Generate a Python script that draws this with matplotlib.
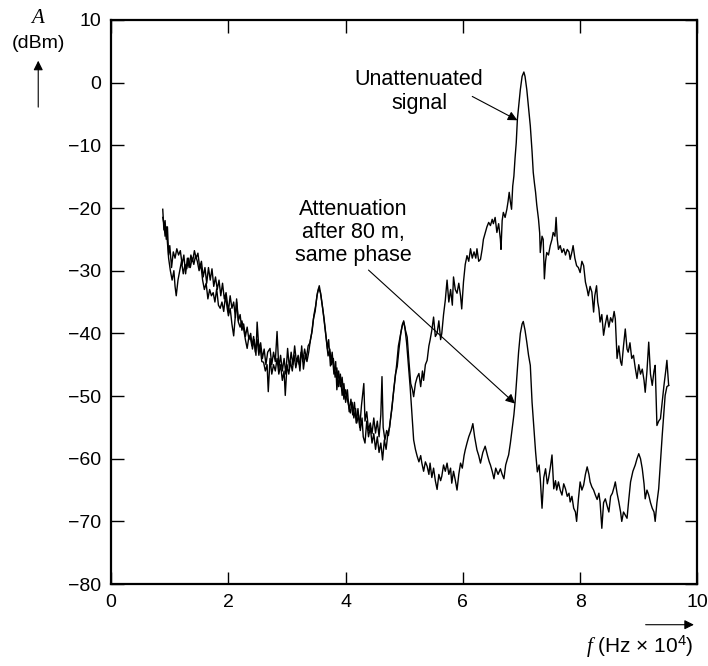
import numpy as np
import matplotlib.pyplot as plt

plt.rcParams['font.family'] = ['Liberation Sans', 'DejaVu Sans']
plt.rcParams['mathtext.fontset'] = 'custom'
plt.rcParams['mathtext.it'] = 'Liberation Serif:italic'
plt.rcParams['mathtext.rm'] = 'Liberation Sans'

# unattenuated signal, f in Hz x 10^4, A in dBm
ua_f = [0.88, 0.90, 0.92, 0.94, 0.96, 0.98, 1.00, 1.03, 1.06, 1.09, 1.12, 1.15, 1.18, 1.21, 1.24, 1.27, 1.30,
        1.33, 1.36, 1.39, 1.42, 1.45, 1.48, 1.51, 1.54, 1.57, 1.60, 1.63, 1.66, 1.69, 1.72, 1.75, 1.78, 1.81,
        1.84, 1.87, 1.90, 1.93, 1.96, 2.00, 2.03, 2.06, 2.09, 2.12, 2.14, 2.17, 2.20, 2.23, 2.26, 2.29, 2.32,
        2.35, 2.38, 2.41, 2.44, 2.47, 2.49, 2.52, 2.55, 2.58, 2.61, 2.64, 2.67, 2.71, 2.74, 2.77, 2.80, 2.83,
        2.86, 2.89, 2.92, 2.95, 2.98, 3.01, 3.04, 3.07, 3.10, 3.13, 3.16, 3.19, 3.22, 3.25, 3.28, 3.31, 3.34,
        3.37, 3.40, 3.43, 3.46, 3.49, 3.52, 3.55, 3.58, 3.61, 3.64, 3.67, 3.70, 3.73, 3.76, 3.79, 3.82, 3.85,
        3.88, 3.91, 3.94, 3.97, 4.00, 4.03, 4.06, 4.09, 4.12, 4.15, 4.18, 4.21, 4.24, 4.27, 4.31, 4.33, 4.36,
        4.39, 4.42, 4.45, 4.48, 4.51, 4.54, 4.57, 4.60, 4.62, 4.64, 4.67, 4.70, 4.73, 4.76, 4.79, 4.82, 4.85,
        4.88, 4.91, 4.94, 4.97, 4.99, 5.02, 5.05, 5.08, 5.11, 5.14, 5.16, 5.19, 5.22, 5.25, 5.28, 5.31, 5.33,
        5.36, 5.39, 5.42, 5.44, 5.47, 5.50, 5.53, 5.56, 5.59, 5.62, 5.64, 5.67, 5.70, 5.73, 5.76, 5.79, 5.82,
        5.84, 5.87, 5.90, 5.93, 5.96, 5.98, 6.01, 6.04, 6.07, 6.10, 6.13, 6.16, 6.19, 6.22, 6.24, 6.27, 6.30,
        6.33, 6.35, 6.38, 6.41, 6.44, 6.47, 6.50, 6.52, 6.55, 6.58, 6.61, 6.64, 6.65, 6.67, 6.69, 6.72, 6.75,
        6.77, 6.79, 6.81, 6.83, 6.85, 6.87, 6.89, 6.91, 6.93, 6.96, 6.98, 7.01, 7.04, 7.06, 7.09, 7.12, 7.15,
        7.18, 7.20, 7.22, 7.24, 7.26, 7.29, 7.31, 7.32, 7.35, 7.37, 7.39, 7.41, 7.43, 7.46, 7.49, 7.52, 7.54,
        7.57, 7.59, 7.61, 7.63, 7.66, 7.69, 7.72, 7.75, 7.78, 7.81, 7.83, 7.86, 7.88, 7.91, 7.94, 7.97, 8.00,
        8.03, 8.06, 8.09, 8.12, 8.14, 8.17, 8.20, 8.23, 8.25, 8.28, 8.30, 8.32, 8.34, 8.37, 8.40, 8.43, 8.46,
        8.49, 8.52, 8.55, 8.58, 8.60, 8.63, 8.66, 8.69, 8.71, 8.74, 8.77, 8.80, 8.82, 8.85, 8.88, 8.91, 8.94,
        8.97, 9.00, 9.03, 9.06, 9.09, 9.11, 9.14, 9.17, 9.20, 9.23, 9.26, 9.28, 9.31, 9.34, 9.37, 9.40, 9.43,
        9.46, 9.48, 9.51]
ua_a = [-20.2, -23.5, -22.0, -25.0, -23.0, -27.5, -26.0, -29.5, -27.0, -28.0, -26.5, -27.5, -26.8, -29.0,
        -27.5, -30.5, -28.0, -29.5, -27.5, -28.5, -26.8, -28.0, -27.2, -29.5, -28.5, -31.0, -29.5, -32.0,
        -29.5, -31.5, -29.7, -32.5, -31.0, -33.0, -31.5, -34.0, -32.0, -34.5, -33.5, -36.5, -34.0, -36.0,
        -35.0, -37.5, -34.5, -38.0, -37.0, -39.5, -38.5, -40.5, -39.0, -41.0, -40.0, -42.5, -41.0, -43.5,
        -38.2, -42.5, -41.5, -44.0, -42.5, -45.0, -43.0, -42.4, -45.0, -43.0, -44.5, -39.7, -45.6, -43.5,
        -46.0, -44.0, -46.5, -42.4, -45.5, -43.0, -45.0, -42.0, -44.6, -43.5, -46.0, -42.0, -45.7, -43.5,
        -44.5, -43.0, -41.0, -39.5, -37.0, -35.5, -33.5, -32.4, -34.0, -36.1, -38.5, -41.0, -43.6, -42.5,
        -45.0, -44.0, -47.0, -45.5, -48.5, -46.5, -49.9, -48.0, -51.0, -49.0, -52.5, -50.5, -53.0, -51.0,
        -54.3, -52.0, -55.0, -51.5, -48.0, -54.0, -52.5, -55.5, -54.3, -56.0, -53.5, -55.9, -54.0, -56.5,
        -53.0, -46.9, -55.0, -57.0, -55.5, -56.3, -54.0, -52.0, -49.0, -46.5, -45.3, -42.5, -40.0, -38.5,
        -38.2, -39.5, -40.6, -44.5, -48.0, -49.0, -50.1, -48.0, -47.0, -46.4, -48.5, -46.0, -47.5, -45.0,
        -44.3, -42.0, -41.1, -39.5, -37.4, -40.5, -40.0, -38.0, -41.0, -40.0, -37.0, -34.7, -31.5, -35.0,
        -33.0, -35.5, -31.0, -33.0, -33.6, -32.0, -34.0, -36.1, -31.8, -29.0, -27.6, -28.5, -26.5, -28.0,
        -27.0, -28.0, -26.5, -28.5, -28.2, -26.5, -25.0, -24.0, -23.0, -22.3, -22.8, -21.8, -22.5, -21.5,
        -23.9, -22.5, -25.0, -26.6, -22.0, -20.7, -21.5, -20.2, -19.0, -17.5, -19.0, -20.2, -16.5, -14.9,
        -12.0, -9.6, -5.8, -3.0, -1.1, 1.0, 1.7, 1.0, -1.1, -4.0, -6.9, -11.0, -14.3, -16.0, -17.5, -19.5,
        -21.8, -24.0, -27.1, -24.5, -25.0, -31.3, -28.5, -27.1, -27.5, -26.0, -25.0, -23.9, -24.5, -21.5,
        -25.0, -26.6, -26.0, -27.1, -26.5, -27.5, -26.6, -27.0, -28.2, -27.0, -26.0, -28.0, -29.2, -29.5,
        -30.3, -28.5, -29.2, -31.8, -33.0, -34.0, -32.5, -33.4, -36.6, -34.0, -32.4, -35.0, -36.1, -38.2,
        -37.0, -40.3, -38.5, -37.1, -39.0, -37.5, -38.2, -36.5, -37.7, -44.0, -42.0, -44.5, -45.1, -42.0,
        -39.3, -42.5, -43.0, -41.5, -44.0, -43.5, -45.5, -47.2, -45.0, -46.5, -45.7, -47.5, -49.4, -46.0,
        -41.4, -46.5, -48.3, -46.0, -45.1, -54.7, -54.0, -53.6, -51.0, -48.3, -46.0, -44.3, -48.3]

# attenuation after 80 m, same phase
at_f = [0.88, 0.90, 0.92, 0.94, 0.96, 0.98, 1.01, 1.04, 1.07, 1.09, 1.11, 1.14, 1.17, 1.20, 1.23, 1.26, 1.29,
        1.32, 1.35, 1.38, 1.41, 1.44, 1.47, 1.50, 1.53, 1.56, 1.59, 1.62, 1.65, 1.68, 1.71, 1.74, 1.77, 1.80,
        1.83, 1.86, 1.89, 1.92, 1.95, 1.98, 2.00, 2.03, 2.06, 2.09, 2.12, 2.14, 2.17, 2.20, 2.23, 2.26, 2.29,
        2.32, 2.35, 2.37, 2.40, 2.43, 2.46, 2.49, 2.52, 2.54, 2.57, 2.60, 2.63, 2.66, 2.68, 2.71, 2.74, 2.77,
        2.80, 2.83, 2.86, 2.89, 2.92, 2.95, 2.97, 3.00, 3.03, 3.06, 3.09, 3.12, 3.15, 3.18, 3.21, 3.24, 3.27,
        3.30, 3.33, 3.36, 3.39, 3.42, 3.45, 3.48, 3.51, 3.54, 3.57, 3.60, 3.63, 3.66, 3.69, 3.71, 3.74, 3.77,
        3.80, 3.83, 3.85, 3.88, 3.91, 3.94, 3.97, 4.00, 4.02, 4.05, 4.08, 4.11, 4.14, 4.17, 4.19, 4.22, 4.25,
        4.28, 4.30, 4.33, 4.36, 4.39, 4.42, 4.45, 4.48, 4.51, 4.54, 4.57, 4.60, 4.63, 4.66, 4.69, 4.72, 4.75,
        4.78, 4.81, 4.84, 4.87, 4.90, 4.93, 4.96, 4.99, 5.01, 5.04, 5.07, 5.10, 5.13, 5.16, 5.19, 5.22, 5.25,
        5.28, 5.30, 5.33, 5.36, 5.39, 5.42, 5.44, 5.47, 5.50, 5.53, 5.56, 5.59, 5.62, 5.64, 5.67, 5.70, 5.73,
        5.76, 5.79, 5.81, 5.84, 5.87, 5.90, 5.93, 5.96, 5.99, 6.02, 6.04, 6.07, 6.10, 6.14, 6.17, 6.20, 6.24,
        6.27, 6.30, 6.34, 6.38, 6.42, 6.45, 6.47, 6.50, 6.53, 6.56, 6.60, 6.64, 6.67, 6.70, 6.73, 6.76, 6.78,
        6.81, 6.84, 6.87, 6.89, 6.92, 6.95, 6.98, 7.01, 7.03, 7.06, 7.09, 7.12, 7.15, 7.18, 7.21, 7.24, 7.27,
        7.30, 7.32, 7.35, 7.38, 7.41, 7.44, 7.46, 7.49, 7.52, 7.55, 7.58, 7.60, 7.63, 7.66, 7.69, 7.72, 7.75,
        7.78, 7.81, 7.83, 7.86, 7.89, 7.92, 7.94, 7.97, 8.00, 8.03, 8.06, 8.09, 8.12, 8.15, 8.17, 8.20, 8.23,
        8.26, 8.29, 8.32, 8.34, 8.37, 8.40, 8.43, 8.46, 8.49, 8.52, 8.55, 8.58, 8.60, 8.63, 8.66, 8.69, 8.71,
        8.74, 8.77, 8.80, 8.83, 8.86, 8.90, 8.94, 8.97, 9.00, 9.03, 9.06, 9.09, 9.11, 9.14, 9.17, 9.20, 9.23,
        9.26, 9.28, 9.31, 9.34, 9.37, 9.40, 9.43, 9.45, 9.48, 9.51]
at_a = [-21.5, -22.5, -24.5, -23.0, -25.5, -28.0, -30.0, -31.5, -30.0, -32.5, -34.0, -31.5, -30.0, -28.5,
        -30.5, -29.0, -29.7, -28.0, -29.5, -28.0, -29.0, -27.6, -28.5, -30.0, -29.0, -31.5, -33.0, -32.0,
        -34.5, -33.0, -34.0, -33.5, -35.0, -32.9, -35.5, -36.0, -35.0, -36.5, -34.0, -36.0, -37.2, -36.0,
        -38.5, -40.4, -37.0, -35.0, -38.2, -39.0, -38.0, -39.3, -41.0, -42.4, -40.5, -40.4, -42.0, -40.5,
        -43.0, -41.0, -43.5, -42.0, -44.5, -44.6, -46.0, -45.0, -49.3, -44.0, -46.5, -45.0, -46.0, -44.0,
        -46.5, -45.0, -47.5, -46.0, -49.9, -45.0, -46.5, -44.5, -46.0, -43.5, -45.5, -44.0, -45.0, -43.0,
        -44.5, -42.5, -44.0, -42.0, -41.5, -40.0, -37.7, -36.5, -34.0, -32.8, -33.5, -35.5, -37.5, -40.0,
        -42.5, -41.0, -45.2, -43.0, -46.5, -44.5, -49.0, -46.0, -48.5, -47.0, -50.5, -49.0, -50.1, -51.5,
        -52.7, -51.0, -53.5, -52.0, -54.3, -53.0, -55.5, -53.5, -56.5, -57.5, -54.0, -56.5, -55.0, -57.5,
        -56.0, -58.5, -56.5, -59.0, -57.5, -60.2, -57.0, -58.5, -56.0, -55.0, -52.5, -50.0, -47.5, -45.0,
        -42.0, -40.5, -39.0, -38.0, -39.0, -41.5, -45.0, -48.5, -52.7, -57.0, -58.5, -59.6, -60.5, -59.5,
        -60.7, -62.0, -60.5, -61.2, -62.5, -60.7, -63.0, -61.5, -63.5, -64.9, -62.5, -63.5, -62.8, -61.0,
        -62.0, -60.7, -62.5, -61.5, -63.9, -62.0, -63.4, -65.0, -62.5, -60.7, -61.5, -59.5, -58.6, -57.5,
        -56.5, -55.5, -54.4, -56.5, -58.6, -59.5, -60.7, -59.0, -58.0, -59.5, -60.5, -61.0, -62.0, -63.2,
        -61.5, -62.5, -61.6, -62.5, -63.2, -61.0, -60.0, -59.4, -57.5, -55.2, -53.0, -51.0, -47.0, -43.0,
        -40.0, -38.5, -38.1, -39.5, -41.4, -43.5, -45.1, -51.0, -55.0, -58.9, -62.1, -61.0, -63.2, -67.9,
        -63.0, -61.6, -64.0, -63.2, -61.5, -59.4, -64.8, -63.5, -65.0, -63.7, -65.0, -65.8, -64.0, -64.8,
        -66.0, -65.5, -66.9, -66.0, -67.9, -68.5, -70.0, -66.5, -63.7, -65.0, -64.2, -62.5, -61.3, -62.5,
        -63.7, -64.5, -65.0, -65.8, -66.5, -65.5, -66.9, -71.1, -67.0, -66.4, -67.5, -68.5, -66.0, -65.5,
        -64.5, -63.7, -65.5, -66.9, -68.5, -70.0, -68.5, -69.0, -69.5, -66.5, -63.7, -62.0, -61.0, -60.0,
        -59.2, -60.0, -61.6, -64.0, -66.4, -65.0, -65.8, -67.0, -67.9, -68.5, -70.0, -67.0, -64.8, -60.5,
        -56.3, -52.5, -49.9, -48.5, -48.3]

x_ticks = [0, 2, 4, 6, 8, 10]
y_ticks = [10, 0, -10, -20, -30, -40, -50, -60, -70, -80]

fig = plt.figure(figsize=(7.08, 6.66), dpi=100)
ax = fig.add_axes([0.157, 0.123, 0.828, 0.847])

ax.plot(ua_f, ua_a, color='black', lw=1.0)
ax.plot(at_f, at_a, color='black', lw=1.0)

ax.set_xlim(0, 10)
ax.set_ylim(-80, 10)
ax.set_xticks(x_ticks)
ax.set_yticks(y_ticks)
ax.set_yticklabels([str(v).replace('-', '\u2212') for v in y_ticks])
ax.tick_params(direction='in', length=9, width=1, top=True, right=True, labelsize=14, pad=7)
for s in ax.spines.values():
    s.set_linewidth(1.6)

arrow = dict(arrowstyle='-|>', color='black', lw=0.8, mutation_scale=14, shrinkA=0, shrinkB=0)

ax.text(6.35, -1.4, 'Unattenuated\nsignal', ha='right', va='center', multialignment='center', fontsize=15.5)
ax.annotate('', xy=(6.93, -6.0), xytext=(6.16, -2.2), arrowprops=arrow)

ax.text(4.13, -23.9, 'Attenuation\nafter 80 m,\nsame phase', ha='center', va='center',
        multialignment='center', fontsize=15.5, linespacing=1.1)
ax.annotate('', xy=(6.89, -51.2), xytext=(4.39, -29.9), arrowprops=arrow)

# axis labels with arrows, as in the original figure
fig.text(0.054, 0.974, '$A$', ha='center', va='center', fontsize=15)
fig.text(0.054, 0.935, '(dBm)', ha='center', va='center', fontsize=14)
fig.add_artist(plt.matplotlib.patches.FancyArrowPatch((0.054, 0.835), (0.054, 0.913), transform=fig.transFigure,
                                                      arrowstyle='-|>', mutation_scale=14, color='black', lw=0.8))
fig.text(0.903, 0.029, '$f$ (Hz \u00d7 10$^{4}$)', ha='center', va='center', fontsize=15)
fig.add_artist(plt.matplotlib.patches.FancyArrowPatch((0.908, 0.062), (0.984, 0.062), transform=fig.transFigure,
                                                      arrowstyle='-|>', mutation_scale=14, color='black', lw=0.8))

fig.savefig('out.png', dpi=100)
